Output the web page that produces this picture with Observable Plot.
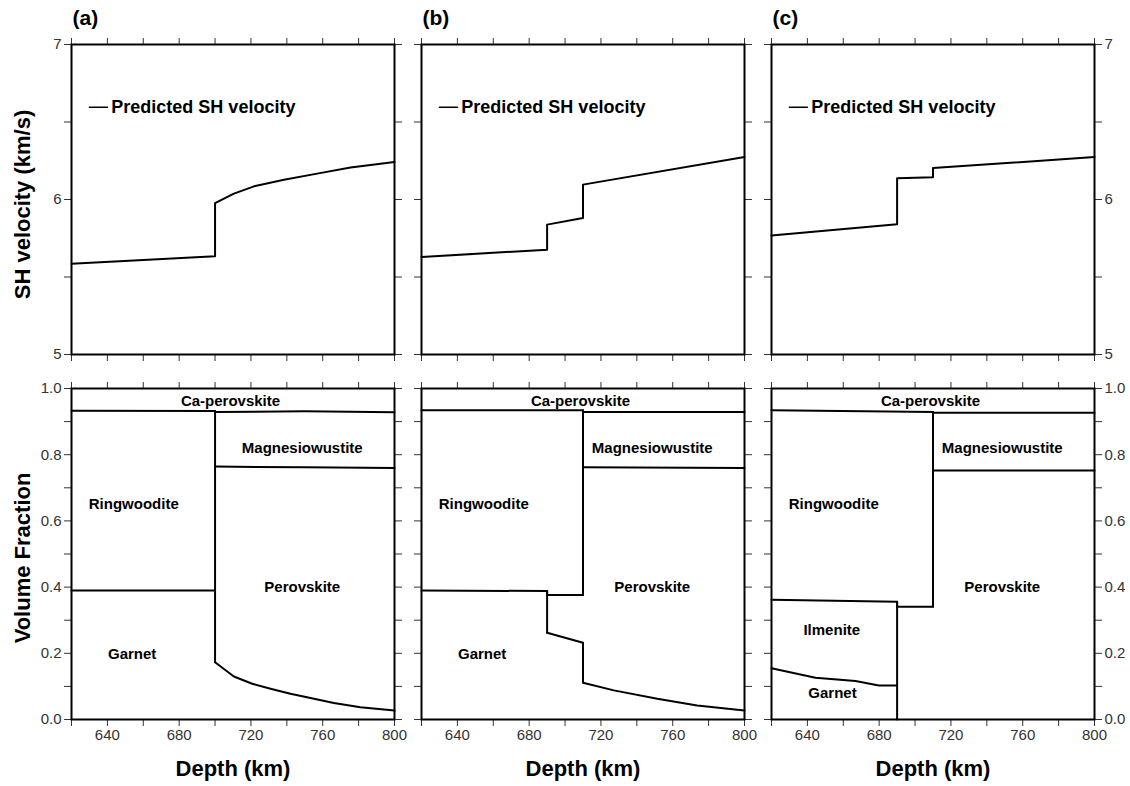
<!DOCTYPE html>
<html>
<head>
<meta charset="utf-8">
<script src="https://cdn.jsdelivr.net/npm/d3@7"></script>
<script src="https://cdn.jsdelivr.net/npm/@observablehq/plot@0.6"></script>
<style>
  html, body { margin: 0; padding: 0; background: #fff; }
  #fig { position: relative; width: 1130px; height: 786px; overflow: hidden; }
  #fig > svg { position: absolute; }
</style>
</head>
<body>
<div id="fig"></div>
<script>
// ---- Predicted SH velocity (km/s) versus depth (km) ----
const velA = [[620, 5.586], [700, 5.634], [700, 5.976], [710.5, 6.038], [721.7, 6.085], [738.4, 6.128], [756.9, 6.167], [775.5, 6.206], [800, 6.242]];
const velB = [[620, 5.629], [690, 5.676], [690, 5.838], [710, 5.881], [710, 6.096], [800, 6.274]];
const velC = [[620, 5.767], [690, 5.840], [690, 6.137], [710, 6.143], [710, 6.203], [800, 6.274]];

// ---- Phase boundaries in volume fraction versus depth ----
// (a)
const caBaseA   = [[620, 0.933], [700, 0.932], [700, 0.929], [750, 0.931], [800, 0.928]];
const ringBaseA = [[620, 0.390], [700, 0.390]];
const step700A  = [[700, 0.932], [700, 0.173]];
const mwBaseA   = [[700, 0.764], [750, 0.762], [800, 0.760]];
const gtTopA    = [[700, 0.173], [710.5, 0.130], [720.7, 0.108], [730.9, 0.093], [742, 0.078], [753.2, 0.065], [766.2, 0.050], [781, 0.037], [800, 0.027]];
// (b)
const caBaseB   = [[620, 0.934], [710, 0.934], [710, 0.929], [800, 0.929]];
const ringBaseB = [[620, 0.390], [690, 0.388], [690, 0.376], [710, 0.376]];
const step690B  = [[690, 0.388], [690, 0.262]];
const step710B  = [[710, 0.934], [710, 0.376]];
const mwBaseB   = [[710, 0.762], [800, 0.760]];
const gtTopB    = [[690, 0.262], [710, 0.232], [710, 0.111], [727.2, 0.088], [751.4, 0.0625], [773.6, 0.042], [800, 0.027]];
// (c)
const caBaseC   = [[620, 0.934], [710, 0.929], [710, 0.927], [800, 0.927]];
const ringBaseC = [[620, 0.362], [690, 0.356], [690, 0.341], [710, 0.341]];
const step690C  = [[690, 0.356], [690, 0.0]];
const step710C  = [[710, 0.929], [710, 0.341]];
const mwBaseC   = [[710, 0.752], [800, 0.752]];
const gtTopC    = [[620, 0.155], [644.5, 0.126], [666.8, 0.116], [679.8, 0.103], [690, 0.103]];

// ---- Phase names and where they are written ----
const phasesAB = [
  {name: "Ca-perovskite", depth: 708.6, frac: 0.962},
  {name: "Magnesiowustite", depth: 748.6, frac: 0.820},
  {name: "Ringwoodite", depth: 654.7, frac: 0.650},
  {name: "Perovskite", depth: 748.6, frac: 0.400},
  {name: "Garnet", depth: 653.8, frac: 0.198}
];
const phasesC = [
  {name: "Ca-perovskite", depth: 708.6, frac: 0.962},
  {name: "Magnesiowustite", depth: 748.6, frac: 0.820},
  {name: "Ringwoodite", depth: 654.7, frac: 0.650},
  {name: "Perovskite", depth: 748.6, frac: 0.400},
  {name: "Ilmenite", depth: 653.6, frac: 0.271},
  {name: "Garnet", depth: 654.0, frac: 0.078}
];

// ---- Ticks ----
const depthDomain = [620, 800];
const depthTicks = d3.range(620, 801, 20);
const depthTickLabels = [640, 680, 720, 760, 800];
const velDomain = [5, 7];
const velTicks = [5, 5.5, 6, 6.5, 7];
const velTickLabels = [5, 6, 7];
const fracDomain = [0, 1];
const fracTicks = d3.range(0, 11).map(i => i / 10);
const fracTickLabels = [0, 0.2, 0.4, 0.6, 0.8, 1.0];

const panelLetters = ["(a)", "(b)", "(c)"];
const legendText = "Predicted SH velocity";

// ---------------------------------------------------------------------------
const FONT = "'Liberation Sans', Arial, Helvetica, sans-serif";
const FRAME_W = 323;
const TOP_H = 310, BOT_H = 331;
const TICK = 7;
const AXIS_COLOR = "#333";

const columns = [
  {left: 0,   width: 405, ml: 71, yLabels: "left"},
  {left: 405, width: 350, ml: 16, yLabels: "none"},
  {left: 755, width: 375, ml: 16, yLabels: "right"}
];

const toRows = (pairs, id) => pairs.map(([depth, value]) => ({depth, value, id}));
const near = (list) => (v) => list.some(t => Math.abs(t - v) < 1e-9);

function frameAxes(yTicks, yLabelTest, yFmt, side, xLabels) {
  const blank = () => "";
  const isDepthLabel = near(depthTickLabels);
  const common = {tickSize: TICK, tickPadding: 3, label: null, color: AXIS_COLOR, fontSize: 15};
  return [
    Plot.axisX({...common, anchor: "top", ticks: depthTicks, tickFormat: blank}),
    Plot.axisX({...common, anchor: "bottom", ticks: depthTicks,
      tickFormat: xLabels ? (d => isDepthLabel(d) ? String(d) : "") : blank}),
    Plot.axisY({...common, anchor: "left", ticks: yTicks,
      tickFormat: side === "left" ? (d => yLabelTest(d) ? yFmt(d) : "") : blank}),
    Plot.axisY({...common, anchor: "right", ticks: yTicks,
      tickFormat: side === "right" ? (d => yLabelTest(d) ? yFmt(d) : "") : blank})
  ];
}

function addSvg(svg, left, top) {
  svg.style.left = left + "px";
  svg.style.top = top + "px";
  document.getElementById("fig").appendChild(svg);
}

// ---- Upper row: velocity profiles ----
const velSeries = [velA, velB, velC];
velSeries.forEach((vel, i) => {
  const col = columns[i];
  const marks = [
    Plot.line(toRows(vel, "vel"), {x: "depth", y: "value", stroke: "black", strokeWidth: 2}),
    // legend swatch and label
    Plot.line(toRows([[630, 6.595], [640, 6.595]], "key"), {x: "depth", y: "value", stroke: "black", strokeWidth: 1.6}),
    Plot.text([legendText], {x: 642.2, y: 6.595, text: d => d, textAnchor: "start", fontSize: 18, fontWeight: "bold", fill: "black"}),
    Plot.text([panelLetters[i]], {frameAnchor: "top-left", dx: 1, dy: -26, text: d => d, textAnchor: "start", lineAnchor: "middle", fontSize: 21, fontWeight: "bold", fill: "black"}),
    ...frameAxes(velTicks, near(velTickLabels), d => String(d), col.yLabels, false),
    Plot.frame({stroke: "black", strokeWidth: 2})
  ];
  if (i === 0) {
    marks.push(Plot.text(["SH velocity (km/s)"], {frameAnchor: "left", rotate: -90, dx: -48.5, dy: 5, text: d => d, textAnchor: "middle", lineAnchor: "middle", fontSize: 22, fontWeight: "bold", fill: "black"}));
  }
  const svg = Plot.plot({
    width: col.width, height: 44 + TOP_H + 16,
    marginLeft: col.ml, marginRight: col.width - col.ml - FRAME_W,
    marginTop: 44, marginBottom: 16,
    x: {domain: depthDomain},
    y: {domain: velDomain},
    style: {background: "transparent", overflow: "visible", fontFamily: FONT},
    marks
  });
  addSvg(svg, col.left, 0);
});

// ---- Lower row: mineral volume fractions ----
const boundarySets = [
  {caBaseA, ringBaseA, step700A, mwBaseA, gtTopA},
  {caBaseB, ringBaseB, step690B, step710B, mwBaseB, gtTopB},
  {caBaseC, ringBaseC, step690C, step710C, mwBaseC, gtTopC}
];
const phaseLabels = [phasesAB, phasesAB, phasesC];

boundarySets.forEach((set, i) => {
  const col = columns[i];
  const rows = Object.entries(set).flatMap(([id, pts]) => toRows(pts, id));
  const marks = [
    Plot.line(rows, {x: "depth", y: "value", z: "id", stroke: "black", strokeWidth: 2}),
    Plot.text(phaseLabels[i], {x: "depth", y: "frac", text: "name", fontSize: 15, fontWeight: "bold", fill: "black"}),
    ...frameAxes(fracTicks, near(fracTickLabels), d3.format(".1f"), col.yLabels, true),
    Plot.frame({stroke: "black", strokeWidth: 2}),
    Plot.text(["Depth (km)"], {frameAnchor: "bottom", dy: 49, text: d => d, textAnchor: "middle", lineAnchor: "middle", fontSize: 22, fontWeight: "bold", fill: "black"})
  ];
  if (i === 0) {
    marks.push(Plot.text(["Volume Fraction"], {frameAnchor: "left", rotate: -90, dx: -48.5, dy: 4, text: d => d, textAnchor: "middle", lineAnchor: "middle", fontSize: 22, fontWeight: "bold", fill: "black"}));
  }
  const svg = Plot.plot({
    width: col.width, height: 18 + BOT_H + 67,
    marginLeft: col.ml, marginRight: col.width - col.ml - FRAME_W,
    marginTop: 18, marginBottom: 67,
    x: {domain: depthDomain},
    y: {domain: fracDomain},
    style: {background: "transparent", overflow: "visible", fontFamily: FONT},
    marks
  });
  addSvg(svg, col.left, 370);
});
</script>
</body>
</html>
